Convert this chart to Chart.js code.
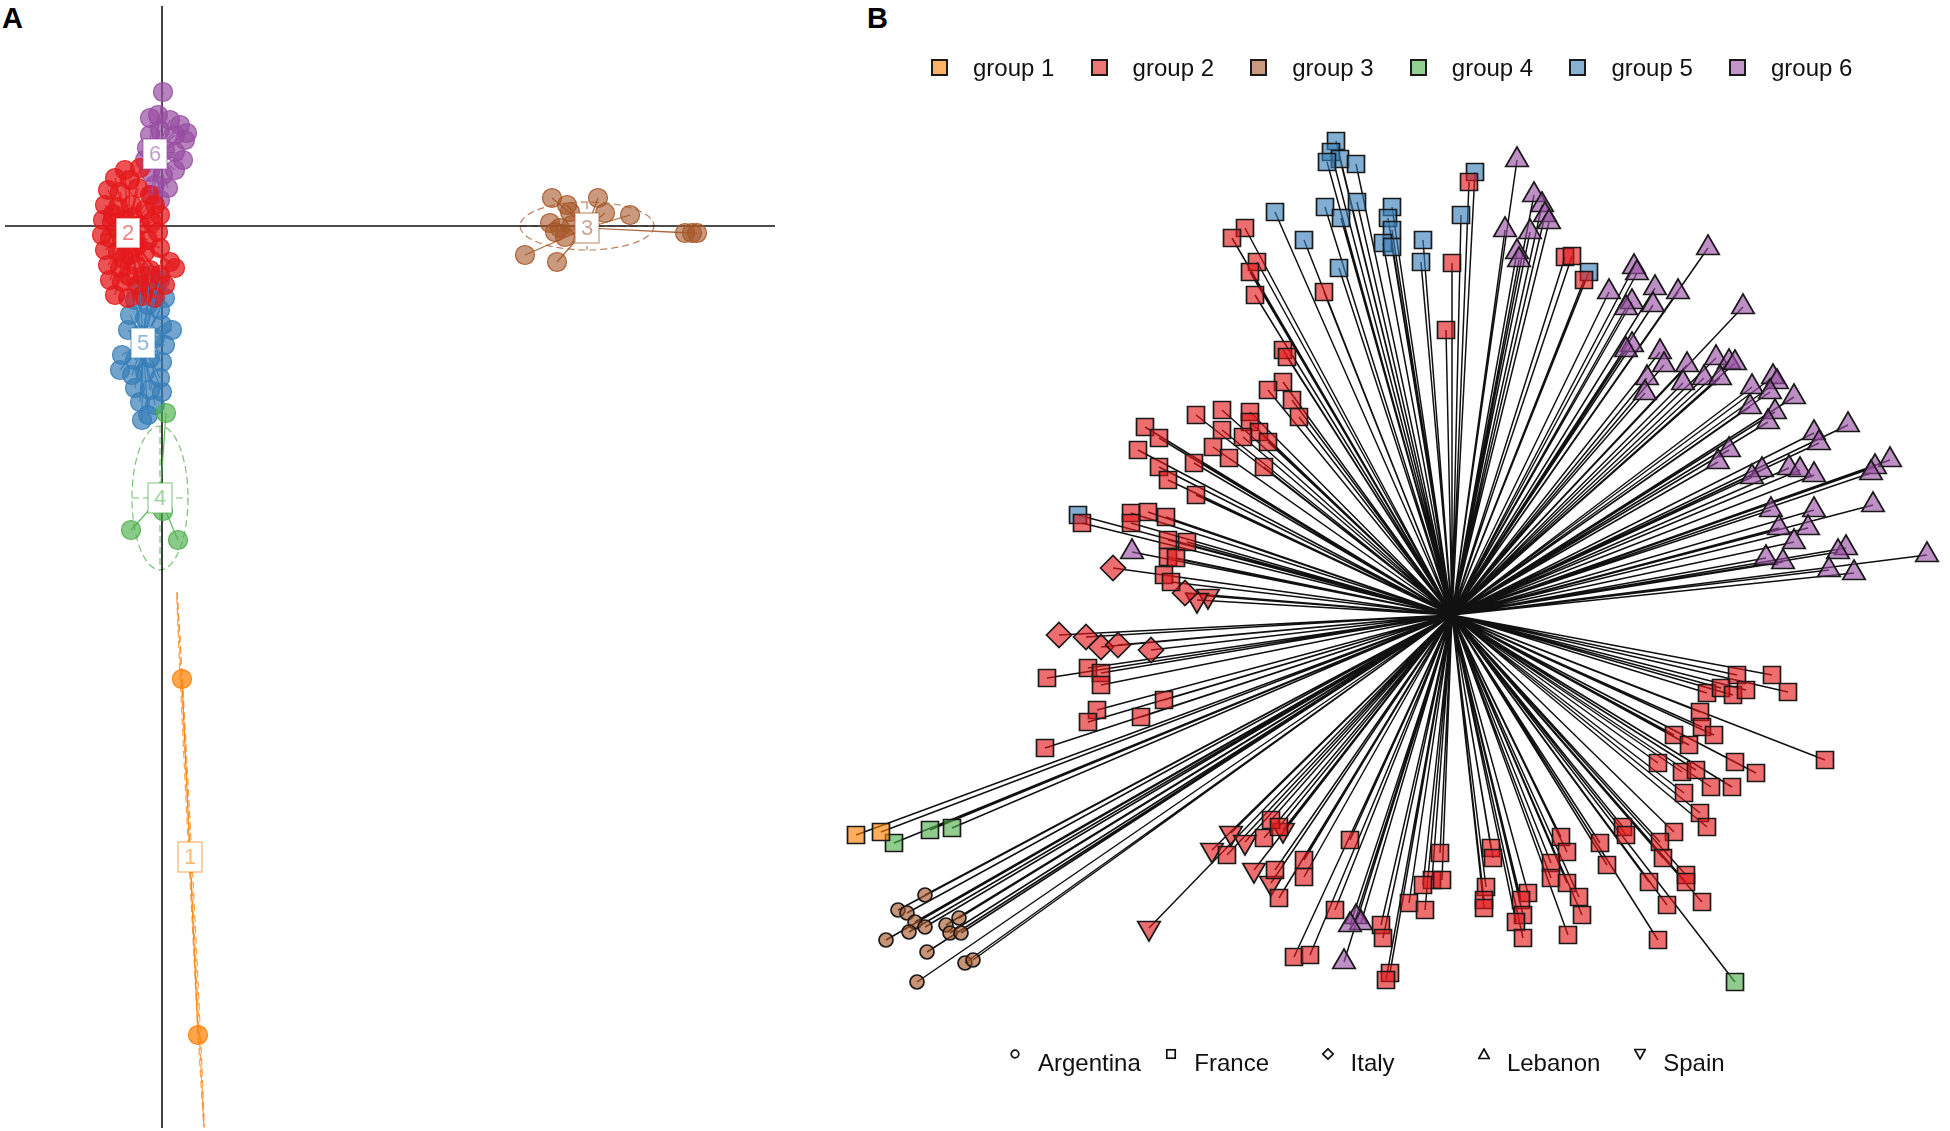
<!DOCTYPE html>
<html>
<head>
<meta charset="utf-8">
<script src="https://cdn.jsdelivr.net/npm/chart.js@4.4.0/dist/chart.umd.min.js"></script>
<style>
body { margin: 0; background: #fff; width: 1950px; height: 1131px; overflow: hidden; position: relative; font-family: "Liberation Sans", Arial, sans-serif; }
#wrapA { position: absolute; left: 0; top: 0; width: 800px; height: 1131px; }
#wrapB { position: absolute; left: 830px; top: 0; width: 1120px; height: 1131px; }
.tag { position: absolute; top: 4px; font-weight: bold; font-size: 29px; line-height: 29px; color: #000; }
#groupLegend { position: absolute; left: 931px; top: 0; }
.gitem { position: absolute; top: 59px; height: 17px; display: flex; align-items: center; white-space: nowrap; }
.sw { width: 17px; height: 17px; box-sizing: border-box; border: 2px solid #1a1a1a; }
.gtext { margin-left: 25px; font-size: 24px; line-height: 24px; color: #111; }
#countryLegend { position: absolute; left: 1009px; top: 1040px; }
.citem { position: absolute; top: 0; height: 40px; width: 150px; }
.citem svg { position: absolute; left: 0; top: 8px; }
.ctext { position: absolute; left: 29px; top: 11px; font-size: 24px; line-height: 24px; color: #111; white-space: nowrap; }
</style>
</head>
<body>
<div class="tag" style="left:2px">A</div>
<div class="tag" style="left:867px">B</div>
<div id="wrapA"><canvas id="dapcChart" width="800" height="1131"></canvas></div>
<div id="wrapB"><canvas id="treeChart" width="1120" height="1131"></canvas></div>
<div id="groupLegend"></div>
<div id="countryLegend"></div>
<script>
// ---- shared ----
const groupNames = ['group 1', 'group 2', 'group 3', 'group 4', 'group 5', 'group 6'];
const groupLabels = ['1', '2', '3', '4', '5', '6'];
const groupColors = ['#FF7F00', '#E41A1C', '#A65628', '#4DAF4A', '#377EB8', '#984EA3'];
const countryNames = ['Argentina', 'France', 'Italy', 'Lebanon', 'Spain'];

// ---- panel A: DAPC scatter (LD1, LD2) ----
const dapc1 = [[2.0,-45.3],[3.6,-80.9]];
const dapc2 = [[-3.7,5.6],[-2.2,5.8],[-4.7,4.8],[-3.2,4.6],[-5.4,3.6],[-4.2,3.4],[-2.4,3.8],[-1.2,3.1],
  [-5.7,2.1],[-4.4,1.9],[-3.0,2.1],[-1.7,1.6],[-0.7,2.1],[-5.9,0.6],[-5.0,0.4],[-3.7,0.6],[-2.2,0.1],
  [-1.0,0.4],[-0.2,1.1],[-6.0,-0.9],[-5.2,-1.2],[-4.0,-1.4],[-2.7,-1.2],[-1.4,-1.4],[-0.4,-0.6],
  [-5.7,-2.4],[-4.4,-2.6],[-3.2,-2.9],[-1.7,-2.6],[-0.2,-2.2],[0.8,-3.6],[1.3,-4.2],[-5.4,-3.9],
  [-4.2,-4.2],[-2.7,-3.9],[-1.2,-4.4],[-0.2,-4.9],[-5.2,-5.4],[-4.0,-5.6],[-2.4,-5.9],[-1.2,-6.2],
  [0.3,-5.9],[-4.7,-6.9],[-3.4,-7.2],[-2.0,-7.0],[-0.7,-7.2],[-3.5,-0.5],[-4.5,-0.3],[-2.5,-2.0],
  [-3.8,-3.3],[-2.9,0.9],[-4.9,1.2],[-1.9,-5.0],[-3.3,-5.0]];
const dapc3 = [[39.0,2.8],[40.5,2.1],[40.8,1.4],[43.6,2.8],[44.3,1.3],[46.8,1.1],[38.8,0.3],[39.3,-0.6],
  [40.3,-1.1],[36.3,-2.9],[39.5,-3.6],[52.3,-0.7],[53.0,-0.7],[53.5,-0.7],[39.8,-0.2],[41.0,0.1]];
const dapc4 = [[0.4,-18.7],[-3.1,-30.4],[1.6,-31.4],[0.1,-28.5]];
const dapc5 = [[-1.2,-4.9],[-0.2,-5.4],[-2.2,-5.9],[-0.7,-6.4],[0.3,-7.2],[-2.7,-7.4],[-1.4,-7.9],
  [-0.2,-8.4],[-3.2,-8.9],[-1.7,-9.2],[0.0,-9.9],[1.0,-10.4],[-3.4,-10.4],[-2.2,-10.9],[-0.7,-11.2],
  [0.3,-11.9],[-4.0,-12.9],[-2.7,-13.4],[-1.2,-13.2],[0.0,-13.6],[-4.2,-14.4],[-3.0,-14.9],[-1.7,-14.6],
  [-0.2,-15.2],[-2.7,-16.2],[-1.2,-16.4],[0.0,-16.6],[-2.2,-17.6],[-0.7,-17.9],[-1.4,-18.9],[-2.0,-19.4]];
const dapc6 = [[0.1,13.4],[-1.2,10.8],[-0.4,11.1],[0.8,10.6],[1.8,10.1],[2.5,9.3],[2.3,8.6],[1.3,9.1],
  [-0.2,9.6],[-1.2,9.1],[-1.5,7.8],[0.3,7.6],[1.3,7.4],[2.1,6.6],[1.3,5.6],[0.1,5.1],[-0.7,4.1],
  [-0.2,2.6],[-1.2,5.4],[-1.7,6.6],[0.6,3.8],[-1.0,3.1]];
const dapcCentroids = [[2.8,-63.1],[-3.4,-0.7],[42.5,-0.2],[-0.2,-27.2],[-1.9,-11.7],[-0.7,7.2]];
// inertia ellipses (visible ones): group index, centre, semi-axes, tilt in degrees
const ellGroup = [0, 2, 3];
const ellCx = [2.85, 42.5, -0.2];
const ellCy = [-63.4, 0.0, -27.2];
const ellRx = [0.15, 6.7, 2.8];
const ellRy = [26.8, 2.4, 7.2];
const ellTilt = [2.9, 0, 0];
const axisH = [[-15.7,0],[61.3,0]];
const axisV = [[0,22],[0,-90.2]];

// ---- panel B: NJ tree tips, centre of tree at (0,0) ----
const g1France = [[-59.6,-22.0],[-57.1,-21.7]];
const g2France = [[-20.7,38.7],[-22.0,37.7],[-19.5,35.3],[-20.2,34.3],[-19.7,32.0],[-12.8,32.3],[-16.9,26.5],
  [-16.5,25.8],[-16.9,23.3],[-18.4,22.5],[-16.0,21.5],[-15.3,19.8],[-25.6,20.0],[-23.0,20.5],[-20.2,20.3],
  [-20.2,19.3],[-23.0,18.5],[-19.3,18.3],[-20.9,17.8],[-18.4,17.3],[-23.9,16.8],[-22.3,15.7],[-18.8,14.8],
  [-25.8,15.2],[-30.7,18.8],[-29.3,17.7],[-31.4,16.5],[-29.3,14.8],[-28.4,13.5],[-25.6,12.0],[-32.1,10.2],
  [-30.4,10.3],[-28.6,9.8],[-32.1,9.2],[-37.0,9.2],[-28.4,7.5],[-26.5,7.3],[-28.4,5.8],[-27.6,5.7],
  [-28.8,4.0],[-28.1,3.3],
  [1.7,43.3],[0.0,35.2],[-0.6,28.5],[11.3,35.8],[12.0,35.9],[13.2,33.5],
  [-40.5,-6.3],[-36.4,-5.3],[-35.1,-5.8],[-35.1,-7.0],[-28.8,-8.5],[-35.5,-9.5],[-36.4,-10.7],[-31.1,-10.2],
  [-40.7,-13.3],
  [-22.5,-24.0],[-18.8,-22.3],[-18.1,-20.5],[-17.3,-21.2],[-14.8,-24.5],[-14.8,-26.2],[-17.7,-25.5],
  [-17.3,-28.3],[-10.2,-22.5],[-11.7,-29.5],[-15.8,-34.2],[-14.2,-34.0],[-7.1,-31.0],[-6.9,-32.3],
  [-6.2,-35.8],[-6.6,-36.5],[-4.3,-28.8],[-2.7,-29.5],[-1.2,-23.8],[-2.0,-26.5],[-1.0,-26.5],[-2.9,-27.0],
  [28.5,-6.0],[32.0,-6.0],[33.6,-7.7],[25.5,-7.8],[26.9,-7.3],[28.1,-8.0],[29.4,-7.5],[24.8,-9.7],
  [25.0,-11.2],[26.2,-12.0],[22.2,-12.0],[23.7,-13.0],[37.3,-14.5],[28.3,-14.7],[30.4,-15.8],[20.6,-14.8],
  [23.0,-15.7],[24.4,-15.5],[25.9,-17.2],[28.0,-17.2],[23.2,-17.8],[24.8,-19.8],[25.5,-21.2],[17.1,-21.2],
  [17.4,-22.0],[22.2,-21.7],[20.8,-22.7],[21.1,-24.3],[14.8,-22.8],[15.5,-25.0],[23.4,-26.0],[23.4,-26.7],
  [19.7,-26.7],[25.0,-28.7],[21.5,-29.0],[20.6,-32.5],[10.9,-22.2],[11.5,-23.7],[9.9,-24.8],[9.9,-26.3],
  [11.5,-26.8],[12.7,-28.2],[13.0,-30.0],[11.6,-32.0],[7.6,-27.8],[6.9,-28.5],[7.1,-30.0],[6.4,-30.7],
  [7.1,-32.3],[3.9,-23.3],[4.1,-24.3],[3.4,-27.2],[3.2,-28.5],[3.2,-29.3]];
const g2Italy = [[-39.3,-2.0],[-36.6,-2.2],[-35.1,-3.2],[-33.4,-3.0],[-30.1,-3.5],[-33.9,4.7],[-26.7,2.2]];
const g2Spain = [[-22.1,-21.8],[-20.7,-22.7],[-24.0,-23.5],[-30.3,-31.3],[-19.8,-25.5],[-18.1,-26.8],
  [-16.9,-21.5],[-24.4,1.9],[-25.5,1.5]];
const g3Argentina = [[-52.7,-28.0],[-55.4,-29.5],[-54.5,-29.8],[-53.7,-30.7],[-52.7,-31.2],[-54.3,-31.7],
  [-56.6,-32.5],[-50.6,-31.0],[-49.3,-30.3],[-50.2,-31.8],[-49.1,-31.8],[-52.5,-33.7],[-48.7,-34.8],
  [-47.9,-34.5],[-53.5,-36.7]];
const g4France = [[-52.2,-21.5],[-50.0,-21.3],[-55.8,-22.8],[28.3,-36.7]];
const g5France = [[-11.6,47.4],[-12.1,46.3],[-11.2,45.6],[-9.6,45.1],[-12.5,45.3],[-9.5,41.3],[-12.7,40.8],
  [-11.1,39.7],[-17.7,40.3],[-14.8,37.5],[-11.3,34.7],[-6.0,40.8],[-6.4,39.7],[-6.0,38.5],[-6.9,37.2],
  [-6.0,36.8],[-2.9,37.5],[-3.1,35.3],[0.9,40.0],[2.3,44.3],[13.7,34.3],[-37.4,10.0]];
const g6Lebanon = [[6.5,45.5],[8.2,42.0],[9.0,41.0],[9.3,40.0],[9.7,39.3],[5.3,38.5],[7.8,38.3],[6.5,36.3],
  [6.7,35.5],[25.6,36.7],[18.2,34.8],[18.5,34.2],[15.7,32.3],[20.3,32.7],[22.6,32.3],[18.0,31.3],
  [17.4,30.7],[20.1,31.0],[29.1,30.8],[18.0,27.0],[17.4,26.5],[20.8,26.3],[21.2,25.0],[23.5,25.0],
  [26.4,25.7],[27.7,25.3],[28.3,25.2],[19.5,23.7],[23.1,23.2],[25.2,23.7],[26.8,23.7],[19.3,22.2],
  [30.0,22.8],[32.1,23.8],[32.5,23.3],[31.8,22.3],[34.2,21.8],[29.8,20.8],[32.3,20.3],[31.6,19.3],
  [39.6,19.0],[36.2,18.2],[36.7,17.2],[27.7,16.5],[26.6,15.3],[31.0,14.5],[30.0,13.8],[33.7,14.7],
  [34.8,14.5],[36.2,14.0],[43.8,15.5],[42.3,14.8],[41.9,14.2],[42.1,11.0],[31.9,10.5],[36.2,10.5],
  [32.7,8.7],[35.6,8.7],[34.2,7.3],[39.4,6.7],[38.6,6.3],[31.4,5.7],[33.1,5.3],[47.5,6.0],[37.7,4.5],
  [40.2,4.2],
  [-32.0,6.3],[-9.6,-30.2],[-9.1,-30.8],[-10.2,-31.0],[-10.8,-34.7]];

function rgba(hex, a) {
    const n = parseInt(hex.slice(1), 16);
    return `rgba(${(n >> 16) & 255}, ${(n >> 8) & 255}, ${n & 255}, ${a})`;
}
const toXY = arr => arr.map(p => ({x: p[0], y: p[1]}));

// star segments from a centre to every point, broken by gaps
function starData(pts, c) {
    const out = [];
    pts.forEach(p => {
        out.push({x: c[0], y: c[1]}, {x: p[0], y: p[1]}, {x: p[0], y: null});
    });
    return out;
}

function lineSet(data, color, width, order) {
    return {
        type: 'line', data: data, borderColor: color, borderWidth: width,
        pointRadius: 0, fill: false, tension: 0, spanGaps: false, order: order
    };
}

// ---- panel A chart ----
const dapcGroups = [dapc1, dapc2, dapc3, dapc4, dapc5, dapc6];
const dapcFill = [0.7, 0.75, 0.6, 0.65, 0.7, 0.7];
const dapcSets = [
    lineSet(toXY(axisH), '#111', 1.6, 9),
    lineSet(toXY(axisV), '#111', 1.6, 9)
];
dapcGroups.forEach((pts, g) => {
    dapcSets.push({
        type: 'scatter', data: toXY(pts),
        backgroundColor: rgba(groupColors[g], dapcFill[g]),
        borderColor: rgba(groupColors[g], 0.9),
        borderWidth: 1.2, pointRadius: 9.5, order: 3
    });
    dapcSets.push(lineSet(starData(pts, dapcCentroids[g]), rgba(groupColors[g], 0.9), 1.2, 2));
});

const dapcDecor = {
    id: 'dapcDecor',
    beforeDatasetsDraw(chart) {
        const {ctx, scales: {x, y}} = chart;
        ellGroup.forEach((g, i) => {
            const cx = x.getPixelForValue(ellCx[i]);
            const cy = y.getPixelForValue(ellCy[i]);
            const rx = Math.abs(x.getPixelForValue(ellCx[i] + ellRx[i]) - cx);
            const ry = Math.abs(y.getPixelForValue(ellCy[i] + ellRy[i]) - cy);
            const rot = -ellTilt[i] * Math.PI / 180;
            ctx.save();
            ctx.strokeStyle = rgba(groupColors[g], 0.75);
            ctx.lineWidth = 1.2;
            ctx.setLineDash([7, 4]);
            ctx.beginPath();
            ctx.ellipse(cx, cy, rx, ry, rot, 0, 2 * Math.PI);
            ctx.stroke();
            ctx.translate(cx, cy);
            ctx.rotate(rot);
            ctx.beginPath();
            ctx.moveTo(-rx, 0); ctx.lineTo(rx, 0);
            ctx.moveTo(0, -ry); ctx.lineTo(0, ry);
            ctx.stroke();
            ctx.restore();
        });
    },
    afterDatasetsDraw(chart) {
        const {ctx, scales: {x, y}} = chart;
        dapcCentroids.forEach((c, g) => {
            const px = x.getPixelForValue(c[0]);
            const py = y.getPixelForValue(c[1]);
            ctx.save();
            ctx.fillStyle = '#fff';
            ctx.fillRect(px - 12, py - 15, 24, 30);
            ctx.strokeStyle = rgba(groupColors[g], 0.5);
            ctx.lineWidth = 1.5;
            ctx.strokeRect(px - 12, py - 15, 24, 30);
            ctx.fillStyle = rgba(groupColors[g], 0.55);
            ctx.font = '22px "Liberation Sans", Arial, sans-serif';
            ctx.textAlign = 'center';
            ctx.textBaseline = 'middle';
            ctx.fillText(groupLabels[g], px, py + 1);
            ctx.restore();
        });
    }
};

new Chart(document.getElementById('dapcChart'), {
    type: 'scatter',
    data: {datasets: dapcSets},
    options: {
        responsive: false,
        animation: false,
        events: [],
        layout: {padding: 0, autoPadding: false},
        plugins: {legend: {display: false}, tooltip: {enabled: false}},
        scales: {
            x: {type: 'linear', min: -16.2, max: 63.8, display: false},
            y: {type: 'linear', min: -90.5, max: 22.6, display: false}
        }
    },
    plugins: [dapcDecor]
});

// ---- panel B chart ----
const tipSets = [
    {pts: g2France, group: 1, style: 'rect', radius: 12, rotation: 0},
    {pts: g2Italy, group: 1, style: 'rectRot', radius: 12.5, rotation: 0},
    {pts: g2Spain, group: 1, style: 'triangle', radius: 13, rotation: 180},
    {pts: g5France, group: 4, style: 'rect', radius: 12, rotation: 0},
    {pts: g6Lebanon, group: 5, style: 'triangle', radius: 13, rotation: 0},
    {pts: g3Argentina, group: 2, style: 'circle', radius: 7, rotation: 0},
    {pts: g1France, group: 0, style: 'rect', radius: 12, rotation: 0},
    {pts: g4France, group: 3, style: 'rect', radius: 12, rotation: 0}
];
const branches = [];
tipSets.forEach(s => {
    s.pts.forEach(p => {
        branches.push({x: 0, y: 0}, {x: p[0], y: p[1]}, {x: p[0], y: null});
    });
});
const treeSets = [lineSet(branches, '#111', 1.5, 5)];
tipSets.forEach(s => {
    treeSets.push({
        type: 'scatter', data: toXY(s.pts),
        pointStyle: s.style, pointRotation: s.rotation, pointRadius: s.radius,
        backgroundColor: rgba(groupColors[s.group], 0.63),
        borderColor: '#1a1a1a', borderWidth: 1.7, order: 1
    });
});

new Chart(document.getElementById('treeChart'), {
    type: 'scatter',
    data: {datasets: treeSets},
    options: {
        responsive: false,
        animation: false,
        events: [],
        layout: {padding: 0, autoPadding: false},
        plugins: {legend: {display: false}, tooltip: {enabled: false}},
        scales: {
            x: {type: 'linear', min: -62.2, max: 49.8, display: false},
            y: {type: 'linear', min: -51.6, max: 61.5, display: false}
        }
    }
});

// ---- legends ----
const groupLegend = document.getElementById('groupLegend');
groupNames.forEach((name, i) => {
    const item = document.createElement('div');
    item.className = 'gitem';
    item.style.left = (i * 159.6) + 'px';
    const sw = document.createElement('span');
    sw.className = 'sw';
    sw.style.background = rgba(groupColors[i], 0.6);
    const tx = document.createElement('span');
    tx.className = 'gtext';
    tx.innerText = name;
    item.append(sw, tx);
    groupLegend.append(item);
});

const countrySymbols = [
    '<circle cx="6" cy="6" r="3.8"/>',
    '<rect x="1.8" y="1.8" width="8.4" height="8.4"/>',
    '<polygon points="6,0.8 11.2,6 6,11.2 0.8,6"/>',
    '<polygon points="6,1 11.3,10.5 0.7,10.5"/>',
    '<polygon points="0.7,1.5 11.3,1.5 6,11"/>'
];
const countryLegend = document.getElementById('countryLegend');
countryNames.forEach((name, i) => {
    const item = document.createElement('div');
    item.className = 'citem';
    item.style.left = (i * 156.3) + 'px';
    item.innerHTML = '<svg width="12" height="12" viewBox="0 0 12 12"><g fill="none" stroke="#111" stroke-width="1.7">' +
        countrySymbols[i] + '</g></svg>';
    const tx = document.createElement('span');
    tx.className = 'ctext';
    tx.innerText = name;
    item.append(tx);
    countryLegend.append(item);
});
</script>
</body>
</html>
